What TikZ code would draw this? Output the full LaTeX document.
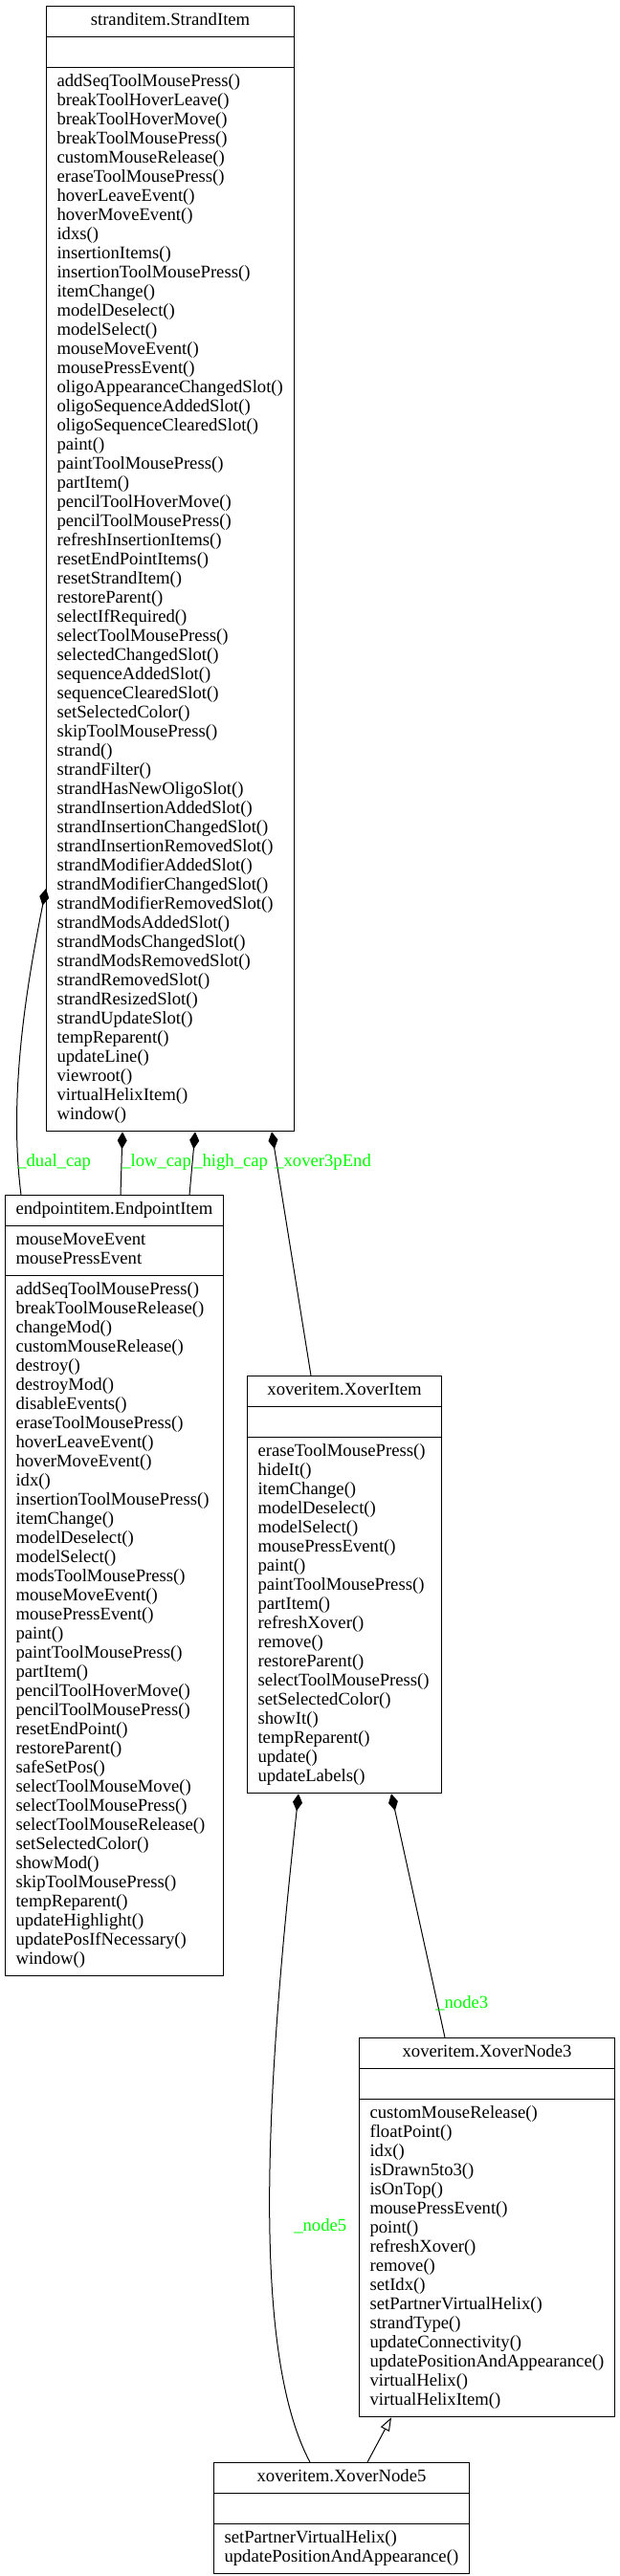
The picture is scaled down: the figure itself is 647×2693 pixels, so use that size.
\documentclass[tikz,border=0pt]{standalone}
\usepackage{fontspec}
\setmainfont{Liberation Serif}
\usepackage{tikz}
\usetikzlibrary{shapes.multipart}
\usetikzlibrary{arrows.meta}
\usetikzlibrary{calc}
\definecolor{labelgreen}{RGB}{0,255,0}
\newcommand{\pxu}{0.75pt}
\tikzset{
  umlclass/.style={rectangle split, rectangle split parts=3, draw, line width=0.8pt,
    anchor=north west, inner xsep=11*\pxu, inner ysep=5.5*\pxu,
    rectangle split part align={center,left,left},
    font=\fontsize{14}{15}\selectfont},
  rolelabel/.style={text=labelgreen, anchor=base west, inner sep=0pt,
    font=\fontsize{14}{15}\selectfont},
  owns/.style={{Diamond[length=13.5pt,width=7.5pt]}-, line width=0.75pt},
  inherits/.style={-{Triangle[open,length=10.5pt,width=7.5pt]}, line width=0.75pt}
}
\begin{document}
\begin{tikzpicture}[x=0.75pt,y=-0.75pt]
      \newcommand{\mlist}[1]{\begin{tabular}{@{}l@{}}#1\end{tabular}}
      \newcommand{\noattr}{\mlist{\hphantom{x}}}
      \useasboundingbox (0,0) rectangle (647,2693);
      \node[umlclass, minimum width=259*\pxu] (strand) at (48,6) {\mlist{stranditem.StrandItem}
        \nodepart{two}\noattr
        \nodepart{three}\mlist{addSeqToolMousePress()\\ breakToolHoverLeave()\\ breakToolHoverMove()\\
          breakToolMousePress()\\ customMouseRelease()\\ eraseToolMousePress()\\ hoverLeaveEvent()\\
          hoverMoveEvent()\\ idxs()\\ insertionItems()\\ insertionToolMousePress()\\ itemChange()\\
          modelDeselect()\\ modelSelect()\\ mouseMoveEvent()\\ mousePressEvent()\\
          oligoAppearanceChangedSlot()\\ oligoSequenceAddedSlot()\\ oligoSequenceClearedSlot()\\
          paint()\\ paintToolMousePress()\\ partItem()\\ pencilToolHoverMove()\\ pencilToolMousePress()\\
          refreshInsertionItems()\\ resetEndPointItems()\\ resetStrandItem()\\ restoreParent()\\
          selectIfRequired()\\ selectToolMousePress()\\ selectedChangedSlot()\\ sequenceAddedSlot()\\
          sequenceClearedSlot()\\ setSelectedColor()\\ skipToolMousePress()\\ strand()\\ strandFilter()\\
          strandHasNewOligoSlot()\\ strandInsertionAddedSlot()\\ strandInsertionChangedSlot()\\
          strandInsertionRemovedSlot()\\ strandModifierAddedSlot()\\ strandModifierChangedSlot()\\
          strandModifierRemovedSlot()\\ strandModsAddedSlot()\\ strandModsChangedSlot()\\
          strandModsRemovedSlot()\\ strandRemovedSlot()\\ strandResizedSlot()\\ strandUpdateSlot()\\
          tempReparent()\\ updateLine()\\ viewroot()\\ virtualHelixItem()\\ window()}};
      \node[umlclass, minimum width=228*\pxu] (endpoint) at (5,1249) {\mlist{endpointitem.EndpointItem}
        \nodepart{two}\mlist{mouseMoveEvent\\ mousePressEvent}
        \nodepart{three}\mlist{addSeqToolMousePress()\\ breakToolMouseRelease()\\ changeMod()\\
          customMouseRelease()\\ destroy()\\ destroyMod()\\ disableEvents()\\ eraseToolMousePress()\\
          hoverLeaveEvent()\\ hoverMoveEvent()\\ idx()\\ insertionToolMousePress()\\ itemChange()\\
          modelDeselect()\\ modelSelect()\\ modsToolMousePress()\\ mouseMoveEvent()\\ mousePressEvent()\\
          paint()\\ paintToolMousePress()\\ partItem()\\ pencilToolHoverMove()\\ pencilToolMousePress()\\
          resetEndPoint()\\ restoreParent()\\ safeSetPos()\\ selectToolMouseMove()\\ selectToolMousePress()\\
          selectToolMouseRelease()\\ setSelectedColor()\\ showMod()\\ skipToolMousePress()\\
          tempReparent()\\ updateHighlight()\\ updatePosIfNecessary()\\ window()}};
      \node[umlclass, minimum width=203*\pxu] (xover) at (258,1438) {\mlist{xoveritem.XoverItem}
        \nodepart{two}\noattr
        \nodepart{three}\mlist{eraseToolMousePress()\\ hideIt()\\ itemChange()\\ modelDeselect()\\
          modelSelect()\\ mousePressEvent()\\ paint()\\ paintToolMousePress()\\ partItem()\\
          refreshXover()\\ remove()\\ restoreParent()\\ selectToolMousePress()\\ setSelectedColor()\\
          showIt()\\ tempReparent()\\ update()\\ updateLabels()}};
      \node[umlclass, minimum width=267*\pxu] (node3) at (375,2130) {\mlist{xoveritem.XoverNode3}
        \nodepart{two}\noattr
        \nodepart{three}\mlist{customMouseRelease()\\ floatPoint()\\ idx()\\ isDrawn5to3()\\ isOnTop()\\
          mousePressEvent()\\ point()\\ refreshXover()\\ remove()\\ setIdx()\\ setPartnerVirtualHelix()\\
          strandType()\\ updateConnectivity()\\ updatePositionAndAppearance()\\ virtualHelix()\\
          virtualHelixItem()}};
      \node[umlclass, minimum width=267*\pxu] (node5) at (223,2574) {\mlist{xoveritem.XoverNode5}
        \nodepart{two}\noattr
        \nodepart{three}\mlist{setPartnerVirtualHelix()\\ updatePositionAndAppearance()}};
      % composition edges
      \draw[owns] ($(strand.north west)+(0,923)$)
        .. controls (30,1020) and (8,1140) .. ($(endpoint.north west)+(17,0)$);% dual cap
      \draw[owns] ($(strand.south west)+(80,0)$) -- ($(endpoint.north west)+(121,0)$);% low cap
      \draw[owns] ($(strand.south west)+(156,0)$) -- ($(endpoint.north west)+(193,0)$);% high cap
      \draw[owns] ($(strand.south west)+(236,0)$) -- ($(xover.north west)+(67,0)$);% xover3pEnd
      \draw[owns] ($(xover.south west)+(54,0)$)
        .. controls (282,2150) and (258,2450) .. ($(node5.north west)+(101,0)$);% node5
      \draw[owns] ($(xover.south west)+(151,0)$) -- ($(node3.north west)+(90,0)$);% node3
      \draw[inherits] ($(node5.north west)+(161,0)$) -- ($(node3.south west)+(34,0)$);% XoverNode5 -> XoverNode3
      % role labels
      \node[rolelabel] (lbldual) at (18,1219) {\_dual\_cap};
      \node[rolelabel] (lbllow) at (127,1219) {\_low\_cap};
      \node[rolelabel] (lblhigh) at (202,1219) {\_high\_cap};
      \node[rolelabel] (lblxover) at (287,1219) {\_xover3pEnd};
      \node[rolelabel] (lblthree) at (455,2099) {\_node3};
      \node[rolelabel] (lblfive) at (307,2332) {\_node5};
    \end{tikzpicture}
\end{document}
